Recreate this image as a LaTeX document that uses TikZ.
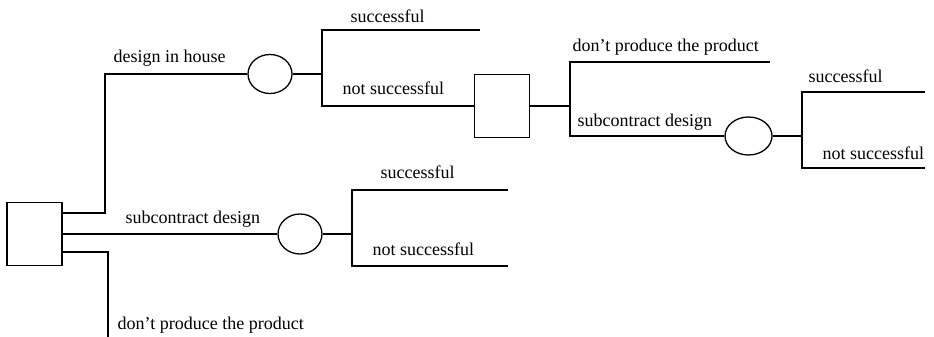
\documentclass[tikz,border=0pt]{standalone}
\usepackage{fontspec}
\setmainfont{Liberation Serif}
\usetikzlibrary{shapes.geometric}

\tikzset{
  decision/.style={draw, rectangle, minimum width=55pt, minimum height=63pt, inner sep=0pt},
  chance/.style={draw, ellipse, minimum width=44pt, minimum height=39pt, inner sep=0pt},
  lbl/.style={anchor=base west, inner sep=0pt, font=\fontsize{18}{21}\selectfont}
}

\begin{document}
\begin{tikzpicture}[x=1pt, y=-1pt, line width=1.3pt]
  \useasboundingbox (0,0) rectangle (934,337);

  % Decision and chance nodes
  \node[decision] (root) at (34.5,234) {};
  \node[chance] (c1) at (270,74) {};
  \node[decision] (d2) at (502,106) {};
  \node[chance, minimum width=47pt, minimum height=38pt] (c3) at (748.5,136) {};
  \node[chance, minimum height=40pt] (c2) at (300,234) {};

  % Corners and branch ends
  \coordinate (j1) at (105,213);
  \coordinate (j3) at (108,252);
  \coordinate (j3end) at (108,337);
  \coordinate (f1t) at (322,30);
  \coordinate (f1b) at (322,106);
  \coordinate (e1) at (480,30);
  \coordinate (f2t) at (570,62);
  \coordinate (f2b) at (570,136);
  \coordinate (e2) at (770,62);
  \coordinate (f3t) at (802,92);
  \coordinate (f3b) at (802,168);
  \coordinate (e3t) at (925,92);
  \coordinate (e3b) at (925,168);
  \coordinate (f4t) at (352,190);
  \coordinate (f4b) at (352,266);
  \coordinate (e4t) at (508,190);
  \coordinate (e4b) at (508,266);

  % Branches from the first decision
  \draw (root.east |- j1) -- (j1) |- (c1);
  \draw (root) -- (c2);
  \draw (root.east |- j3) -- (j3) -- (j3end);

  % Design in house
  \draw (c1) -- (c1.east -| f1t);
  \draw (e1) -- (f1t) -- (f1b) -- (d2);
  \draw (d2) -- (d2.east -| f2t);
  \draw (e2) -- (f2t) -- (f2b) -- (c3);
  \draw (c3) -- (c3.east -| f3t);
  \draw (e3t) -- (f3t) -- (f3b) -- (e3b);

  % Subcontract design
  \draw (c2) -- (c2.east -| f4t);
  \draw (e4t) -- (f4t) -- (f4b) -- (e4b);

  % Labels
  \node[lbl] (l1) at (113,63) {design in house};
  \node[lbl] (l2) at (350,23) {successful};
  \node[lbl] (l3) at (342,95) {not successful};
  \node[lbl] (l4) at (572,52) {don’t produce the product};
  \node[lbl] (l5) at (577,126) {subcontract design};
  \node[lbl] (l6) at (808,82) {successful};
  \node[lbl] (l7) at (822,159) {not successful};
  \node[lbl] (l8) at (125,223) {subcontract design};
  \node[lbl] (l9) at (380,178) {successful};
  \node[lbl] (l10) at (372,255) {not successful};
  \node[lbl] (l11) at (117,329) {don’t produce the product};
\end{tikzpicture}
\end{document}
